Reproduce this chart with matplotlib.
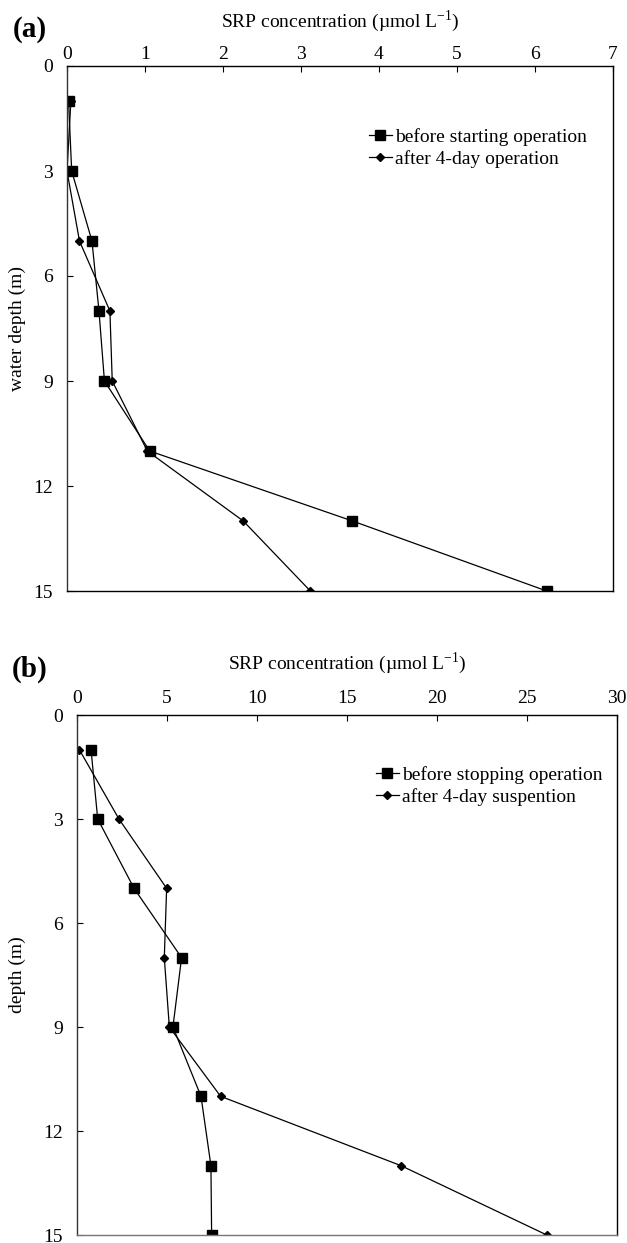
import matplotlib
matplotlib.use("Agg")
import matplotlib.pyplot as plt

plt.rcParams['font.family'] = ['Liberation Serif', 'DejaVu Serif']
plt.rcParams['mathtext.fontset'] = 'custom'
plt.rcParams['mathtext.rm'] = 'Liberation Serif'

# profundidades (m)
depth = [1, 3, 5, 7, 9, 11, 13, 15]

# painel (a)
a_before = [0.02, 0.06, 0.32, 0.41, 0.48, 1.06, 3.66, 6.15]
a_after = [0.05, 0.0, 0.16, 0.55, 0.58, 1.03, 2.26, 3.12]
a_labels = ["before starting operation", "after 4-day operation"]

# painel (b)
b_before = [0.78, 1.15, 3.17, 5.81, 5.33, 6.89, 7.44, 7.48]
b_after = [0.13, 2.33, 4.98, 4.85, 5.13, 7.98, 18.0, 26.1]
b_labels = ["before stopping operation", "after 4-day suspention"]

xlabel = r"SRP concentration (µmol L$^{\mathrm{-1}}$)"
yticks = [0, 3, 6, 9, 12, 15]

fig = plt.figure(figsize=(6.27, 12.43), dpi=100)
ax1 = fig.add_axes([67/627, 1-591/1243, 546/627, 525/1243])
ax2 = fig.add_axes([77/627, 1-1235/1243, 540/627, 520/1243])


def perfil(ax, before, after, labels, xmax, xstep, ylab, letra,
           leg_xy, ylab_x, letra_xy, xpad, tpad):
    ax.plot(before, depth, color='black', lw=0.9, marker='s', ms=6.5,
            label=labels[0])
    ax.plot(after, depth, color='black', lw=0.9, marker='D', ms=4.5,
            label=labels[1])
    ax.set_xlim(0, xmax)
    ax.set_ylim(15, 0)
    ax.set_xticks(range(0, xmax + 1, xstep))
    ax.set_yticks(yticks)
    ax.xaxis.set_ticks_position('top')
    ax.xaxis.set_label_position('top')
    ax.tick_params(axis='x', direction='in', length=4, width=0.8,
                   labelsize=14, pad=xpad)
    ax.tick_params(axis='y', direction='in', length=4, width=0.8,
                   labelsize=14, pad=10)
    for s in ax.spines.values():
        s.set_linewidth(1.0)
    ax.spines['left'].set_color('#333333')
    ax.set_xlabel(xlabel, fontsize=14, labelpad=tpad)
    ax.set_ylabel(ylab, fontsize=14)
    ax.yaxis.set_label_coords(ylab_x, 0.5)
    ax.legend(loc='upper left', bbox_to_anchor=leg_xy, frameon=False,
              fontsize=14, handlelength=1.2, handletextpad=0.15,
              labelspacing=0.2, borderpad=0, numpoints=1)
    ax.text(letra_xy[0], letra_xy[1], letra, transform=ax.transAxes,
            fontsize=21, fontweight='bold', ha='left', va='center')


perfil(ax1, a_before, a_after, a_labels, 7, 1, "water depth (m)", "(a)",
       (0.535, 0.90), -0.076, (-0.1, 1.07), 2, 14)
perfil(ax2, b_before, b_after, b_labels, 30, 5, "depth (m)", "(b)",
       (0.535, 0.92), -0.095, (-0.12, 1.088), 6, 15)
ax2.spines['bottom'].set_color('#777777')

fig.savefig("out.png", dpi=100)
